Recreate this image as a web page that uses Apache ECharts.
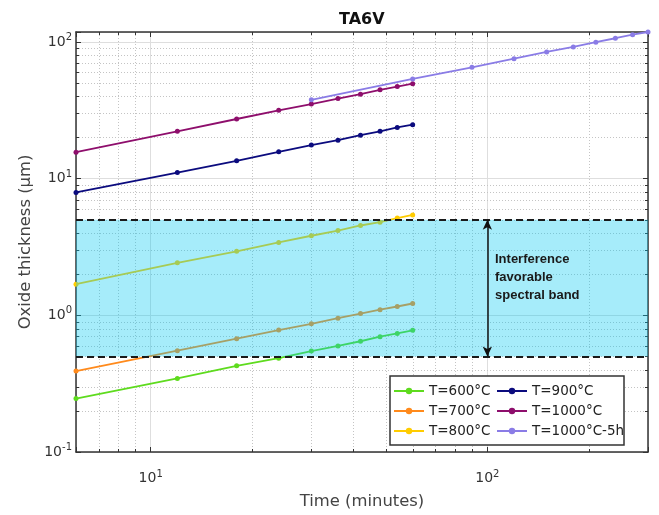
<!DOCTYPE html>
<html><head><meta charset="utf-8">
<script src="https://cdn.jsdelivr.net/npm/echarts@6/dist/echarts.min.js"></script>
<style>html,body{margin:0;padding:0;background:#fff}#c{width:659px;height:515px}</style>
</head><body><div id="c"></div>
<script>
// ---- data ----
const times10 = [6, 12, 18, 24, 30, 36, 42, 48, 54, 60];
const times5h = [30, 60, 90, 120, 150, 180, 210, 240, 270, 300];
const t600 = [0.246, 0.345, 0.427, 0.486, 0.548, 0.597, 0.646, 0.697, 0.737, 0.776];
const t700 = [0.391, 0.551, 0.675, 0.780, 0.867, 0.953, 1.03, 1.10, 1.16, 1.22];
const t800 = [1.69, 2.42, 2.94, 3.41, 3.82, 4.17, 4.54, 4.80, 5.15, 5.42];
const t900 = [7.93, 11.07, 13.5, 15.7, 17.6, 19.1, 20.8, 22.2, 23.7, 24.8];
const t1000 = [15.6, 22.2, 27.3, 31.6, 35.1, 38.5, 41.5, 44.6, 47.1, 49.5];
const t1000_5h = [37.7, 53.6, 65.2, 75.4, 84.5, 92.0, 99.5, 106.4, 113, 118.2];
const seriesNames = ['T=600°C', 'T=700°C', 'T=800°C', 'T=900°C', 'T=1000°C', 'T=1000°C-5h'];
const seriesColors = ['#5EDB1E', '#FF8A1C', '#FFCC00', '#0B0B7E', '#8E0E6C', '#8A7CE6'];
const bandLow = 0.5, bandHigh = 5;
const arrowTime = 100;
const bandText = 'Interference\nfavorable\nspectral band';
const xMin = 6, xMax = 300, yMin = 0.1, yMax = 118.2;
const xMinor = [7, 8, 9, 20, 30, 40, 50, 60, 70, 80, 90, 200];
const yMinor = [0.2, 0.3, 0.4, 0.5, 0.6, 0.7, 0.8, 0.9, 2, 3, 4, 5, 6, 7, 8, 9, 20, 30, 40, 50, 60, 70, 80, 90];

// ---- chart ----
const FONT = 'DejaVu Sans';
const AX = '#333';
const chart = echarts.init(document.getElementById('c'), null, {renderer: 'canvas'});

function decLabel(v) {
  const e = Math.log10(v), r = Math.round(e);
  if (Math.abs(e - r) > 1e-6) return '';
  return '{b|10}{s|' + r + '}';
}
const labelRich = {
  b: {fontSize: 14, color: AX, fontFamily: FONT},
  s: {fontSize: 10, color: AX, fontFamily: FONT, padding: [0, 0, 9, 0]}
};

function minorRender(isX) {
  return function (params, api) {
    const cs = params.coordSys;
    const ch = [];
    const gl = {stroke: '#c4c4c4', lineWidth: 1, lineDash: [1, 2]};
    const tk = {stroke: AX, lineWidth: 1};
    if (isX) {
      const x = Math.round(api.coord([api.value(0), 1])[0]) + 0.5;
      const y0 = cs.y, y1 = cs.y + cs.height;
      ch.push({type: 'line', shape: {x1: x, y1: y0, x2: x, y2: y1}, style: gl});
      ch.push({type: 'line', shape: {x1: x, y1: y1, x2: x, y2: y1 - 3}, style: tk});
      ch.push({type: 'line', shape: {x1: x, y1: y0, x2: x, y2: y0 + 3}, style: tk});
    } else {
      const y = Math.round(api.coord([10, api.value(1)])[1]) + 0.5;
      const x0 = cs.x, x1 = cs.x + cs.width;
      ch.push({type: 'line', shape: {x1: x0, y1: y, x2: x1, y2: y}, style: gl});
      ch.push({type: 'line', shape: {x1: x0, y1: y, x2: x0 + 3, y2: y}, style: tk});
      ch.push({type: 'line', shape: {x1: x1, y1: y, x2: x1 - 3, y2: y}, style: tk});
    }
    return {type: 'group', children: ch};
  };
}

const seriesData = [t600, t700, t800, t900, t1000, t1000_5h];
const lineSeries = seriesData.map((vals, i) => {
  const ts = i === 5 ? times5h : times10;
  return {
    name: seriesNames[i], type: 'line', z: 3,
    data: vals.map((v, k) => [ts[k], v]),
    symbol: 'circle', symbolSize: 5, showSymbol: true,
    lineStyle: {color: seriesColors[i], width: 1.8},
    itemStyle: {color: seriesColors[i]},
    emphasis: {disabled: true}, animation: false
  };
});

const axisCommon = {
  type: 'log', logBase: 10,
  axisLine: {show: true, lineStyle: {color: AX, width: 1.5}},
  axisTick: {show: true, inside: true, length: 5, lineStyle: {color: AX, width: 1}},
};

const legendCommon = {
  orient: 'vertical', top: 383, padding: 0,
  itemWidth: 30, itemHeight: 8, itemGap: 4, z: 21, selectedMode: false,
  textStyle: {fontFamily: FONT, fontSize: 13.5, color: '#222', lineHeight: 16}
};

const option = {
  animation: false,
  title: {text: 'TA6V', left: 334, top: 7,
    textStyle: {fontFamily: FONT, fontWeight: 'bold', fontSize: 16, color: '#111'}},
  grid: {left: 76, right: 11, top: 32, bottom: 60, containLabel: false},
  xAxis: [
    Object.assign({}, axisCommon, {
      min: xMin, max: xMax, position: 'bottom',
      axisLabel: {formatter: decLabel, rich: labelRich, margin: 17},
      splitLine: {show: true, lineStyle: {color: '#dedede', width: 1}},
      name: 'Time (minutes)', nameLocation: 'middle', nameGap: 42,
      nameTextStyle: {fontFamily: FONT, fontSize: 16.4, color: '#444'}
    }),
    Object.assign({}, axisCommon, {
      min: xMin, max: xMax, position: 'top',
      axisLabel: {show: false}, splitLine: {show: false}
    })
  ],
  yAxis: [
    Object.assign({}, axisCommon, {
      min: yMin, max: yMax, position: 'left',
      axisLabel: {formatter: decLabel, rich: labelRich, margin: 4, align: 'right'},
      splitLine: {show: true, lineStyle: {color: '#dedede', width: 1}},
      name: 'Oxide thickness (µm)', nameLocation: 'middle', nameGap: 42,
      nameTextStyle: {fontFamily: FONT, fontSize: 16.4, color: '#444'}
    }),
    Object.assign({}, axisCommon, {
      min: yMin, max: yMax, position: 'right',
      axisLabel: {show: false}, splitLine: {show: false}
    })
  ],
  legend: [
    Object.assign({data: seriesNames.slice(0, 3), left: 393}, legendCommon),
    Object.assign({data: seriesNames.slice(3), left: 496}, legendCommon)
  ],
  graphic: [
    {type: 'rect', z: 20, shape: {x: 390, y: 376, width: 234, height: 69},
     style: {fill: '#fff', stroke: '#333', lineWidth: 1.5}},
    {type: 'text', z: 20, left: 495, top: 250,
     style: {text: bandText, font: 'bold 13px "Liberation Sans", Arial, sans-serif',
       fill: '#1a1a1a', lineHeight: 18}}
  ],
  series: [
    {type: 'custom', z: 1, silent: true, renderItem: minorRender(true),
     data: xMinor.map(v => [v, 1]), clip: false},
    {type: 'custom', z: 1, silent: true, renderItem: minorRender(false),
     data: yMinor.map(v => [10, v]), clip: false},
    ...lineSeries,
    {type: 'line', z: 10, data: [], silent: true,
     markArea: {silent: true, z: 10, itemStyle: {color: 'rgba(0,200,240,0.35)'},
       data: [[{yAxis: bandHigh}, {yAxis: bandLow}]]},
     markLine: {silent: true, z: 11, symbol: ['none', 'none'], label: {show: false},
       lineStyle: {color: '#1a1a1a', width: 2, type: [7, 4]},
       data: [
         {yAxis: bandHigh}, {yAxis: bandLow},
         [{coord: [arrowTime, bandHigh], symbol: 'arrow', symbolSize: [7, 10],
           lineStyle: {type: 'solid', width: 1.5, color: '#111'}},
          {coord: [arrowTime, bandLow], symbol: 'arrow', symbolSize: [7, 10]}]
       ]}}
  ]
};
chart.setOption(option);
</script></body></html>
